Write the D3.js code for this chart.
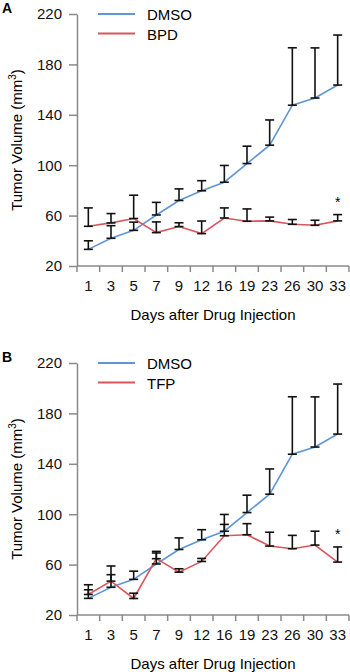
<!DOCTYPE html>
<html lang="en">
<head>
  <meta charset="UTF-8">
  <title>Tumor Volume</title>
  <script src="https://d3js.org/d3.v7.min.js"></script>
  <style>
    body { margin: 0; background: #fff; }
  </style>
</head>
<body>
<svg></svg>
<script>
  // svg size
  const width = 350, height = 672
  // position of one panel; panel B is shifted down by panelShift
  const margin = {top: 14, left: 77, right: 1, plotBottom: 266}
  const panelShift = 349

  // data
  const days = ['1', '3', '5', '7', '9', '12', '16', '19', '23', '26', '30', '33']
  const yTicks = [20, 60, 100, 140, 180, 220]

  const dmsoMean = [33.2, 42, 48.3, 60.5, 72, 79.7, 86.5, 101.3, 115.9, 147.6, 153.3, 163.6]
  const dmsoErr = [6.8, 10, 6.5, 10, 9.2, 8, 13.3, 13.8, 20, 45.6, 39.8, 39.7]

  const bpdMean = [51.5, 54.2, 57.7, 46.5, 51.3, 45.7, 58.1, 55.5, 55.8, 53.1, 52.3, 55.8]
  const bpdErr = [14.6, 7.4, 18.5, 8.5, 3, 10, 8, 9.8, 3, 3.8, 4, 5]

  const tfpMean = [36.3, 46.9, 33.1, 64.7, 54, 62.5, 82.9, 83.7, 74.7, 72.6, 75.5, 62]
  const tfpErr = [7.7, 12, 4.2, 4.5, 2.7, 2.4, 9, 8.8, 11, 10.6, 11, 12]

  const blue = '#6096d6', red = '#d9565b', axisGrey = '#8a8a8a'
  const font = '"Liberation Sans", Arial, Helvetica, sans-serif'

  const svg = d3.select('svg')
      .attr('width', width)
      .attr('height', height)
      .attr('viewBox', [0, 0, width, height])
      .attr('font-family', font)

  const x = d3.scaleBand()
      .domain(days)
      .range([margin.left, width - margin.right])

  const y = d3.scaleLinear()
      .domain([20, 220])
      .range([margin.plotBottom, margin.top])

  function drawPanel(offset, letter, name, mean, err) {
    const g = svg.append('g').attr('transform', `translate(0,${offset})`)

    // panel letter
    g.append('text')
        .attr('x', 2).attr('y', 13)
        .attr('font-size', '14px').attr('font-weight', 'bold')
        .text(letter)

    // y axis
    const yAxis = g.append('g')
        .attr('transform', `translate(${margin.left},0)`)
        .call(d3.axisLeft(y).tickValues(yTicks).tickSize(8).tickPadding(7).tickSizeOuter(0))
    yAxis.select('.domain').attr('stroke', axisGrey).attr('stroke-width', 1.5)
    yAxis.selectAll('.tick line').attr('stroke', axisGrey).attr('stroke-width', 1.5)
    yAxis.selectAll('.tick text').attr('font-size', '15px').attr('font-family', font).attr('fill', '#111')

    // x axis: labels in the band centres, ticks on the band edges
    const xAxis = g.append('g')
        .attr('transform', `translate(0,${margin.plotBottom})`)
        .call(d3.axisBottom(x).tickSize(0).tickPadding(14))
    xAxis.select('.domain').remove()
    xAxis.selectAll('.tick text').attr('font-size', '15px').attr('font-family', font).attr('fill', '#111')

    const edges = days.map(d => x(d)).concat([x.range()[1]])
    xAxis.append('line')
        .attr('x1', x.range()[0]).attr('x2', x.range()[1])
        .attr('stroke', axisGrey).attr('stroke-width', 1.5)
    xAxis.selectAll('.edge')
        .data(edges)
        .enter().append('line')
        .attr('x1', d => d).attr('x2', d => d)
        .attr('y1', 0).attr('y2', 6)
        .attr('stroke', axisGrey).attr('stroke-width', 1.5)

    // axis titles
    g.append('text')
        .attr('x', (x.range()[0] + x.range()[1]) / 2)
        .attr('y', margin.plotBottom + 54)
        .attr('text-anchor', 'middle')
        .attr('font-size', '15px')
        .text('Days after Drug Injection')

    const yTitle = g.append('text')
        .attr('transform', `translate(22,${(margin.top + margin.plotBottom) / 2}) rotate(-90)`)
        .attr('text-anchor', 'middle')
        .attr('font-size', '15px')
    yTitle.append('tspan').text('Tumor Volume (mm')
    yTitle.append('tspan').attr('font-size', '10px').attr('dy', -6).text('3')
    yTitle.append('tspan').attr('dy', 6).text(')')

    // lines
    const series = [
      {name: 'DMSO', color: blue, mean: dmsoMean, err: dmsoErr},
      {name: name, color: red, mean: mean, err: err}
    ]
    const line = d3.line()
        .x((d, i) => x(days[i]) + x.bandwidth() / 2)
        .y(d => y(d))

    series.forEach(s => {
      g.append('path')
          .attr('d', line(s.mean))
          .attr('fill', 'none')
          .attr('stroke', s.color)
          .attr('stroke-width', 1.6)
    })

    // error bars (mean to mean + error)
    const cap = 4.5
    series.forEach(s => {
      const bars = g.append('g')
          .selectAll('g')
          .data(s.mean.map((m, i) => ({day: days[i], m: m, e: s.err[i]})))
          .enter().append('g')
          .attr('transform', d => `translate(${x(d.day) + x.bandwidth() / 2},0)`)
          .attr('stroke', '#111')
          .attr('stroke-width', 1.6)
      bars.append('line')
          .attr('y1', d => y(d.m)).attr('y2', d => y(d.m + d.e))
      bars.append('line')
          .attr('x1', -cap).attr('x2', cap)
          .attr('y1', d => y(d.m + d.e)).attr('y2', d => y(d.m + d.e))
      bars.append('line')
          .attr('x1', -cap).attr('x2', cap)
          .attr('y1', d => y(d.m)).attr('y2', d => y(d.m))
    })

    // significance mark over the last treated point
    const last = days.length - 1
    g.append('text')
        .attr('x', x(days[last]) + x.bandwidth() / 2)
        .attr('y', y(mean[last] + err[last]) - 8)
        .attr('text-anchor', 'middle')
        .attr('font-size', '14px')
        .text('*')

    // legend
    const legend = g.append('g')
        .selectAll('g')
        .data(series)
        .enter().append('g')
        .attr('transform', (d, i) => `translate(98,${margin.top + i * 19.5})`)
    legend.append('line')
        .attr('x1', 0).attr('x2', 37)
        .attr('stroke', d => d.color)
        .attr('stroke-width', 1.8)
    legend.append('text')
        .attr('x', 49).attr('y', 6)
        .attr('font-size', '15px')
        .text(d => d.name)
  }

  drawPanel(0, 'A', 'BPD', bpdMean, bpdErr)
  drawPanel(panelShift, 'B', 'TFP', tfpMean, tfpErr)
</script>
</body>
</html>
